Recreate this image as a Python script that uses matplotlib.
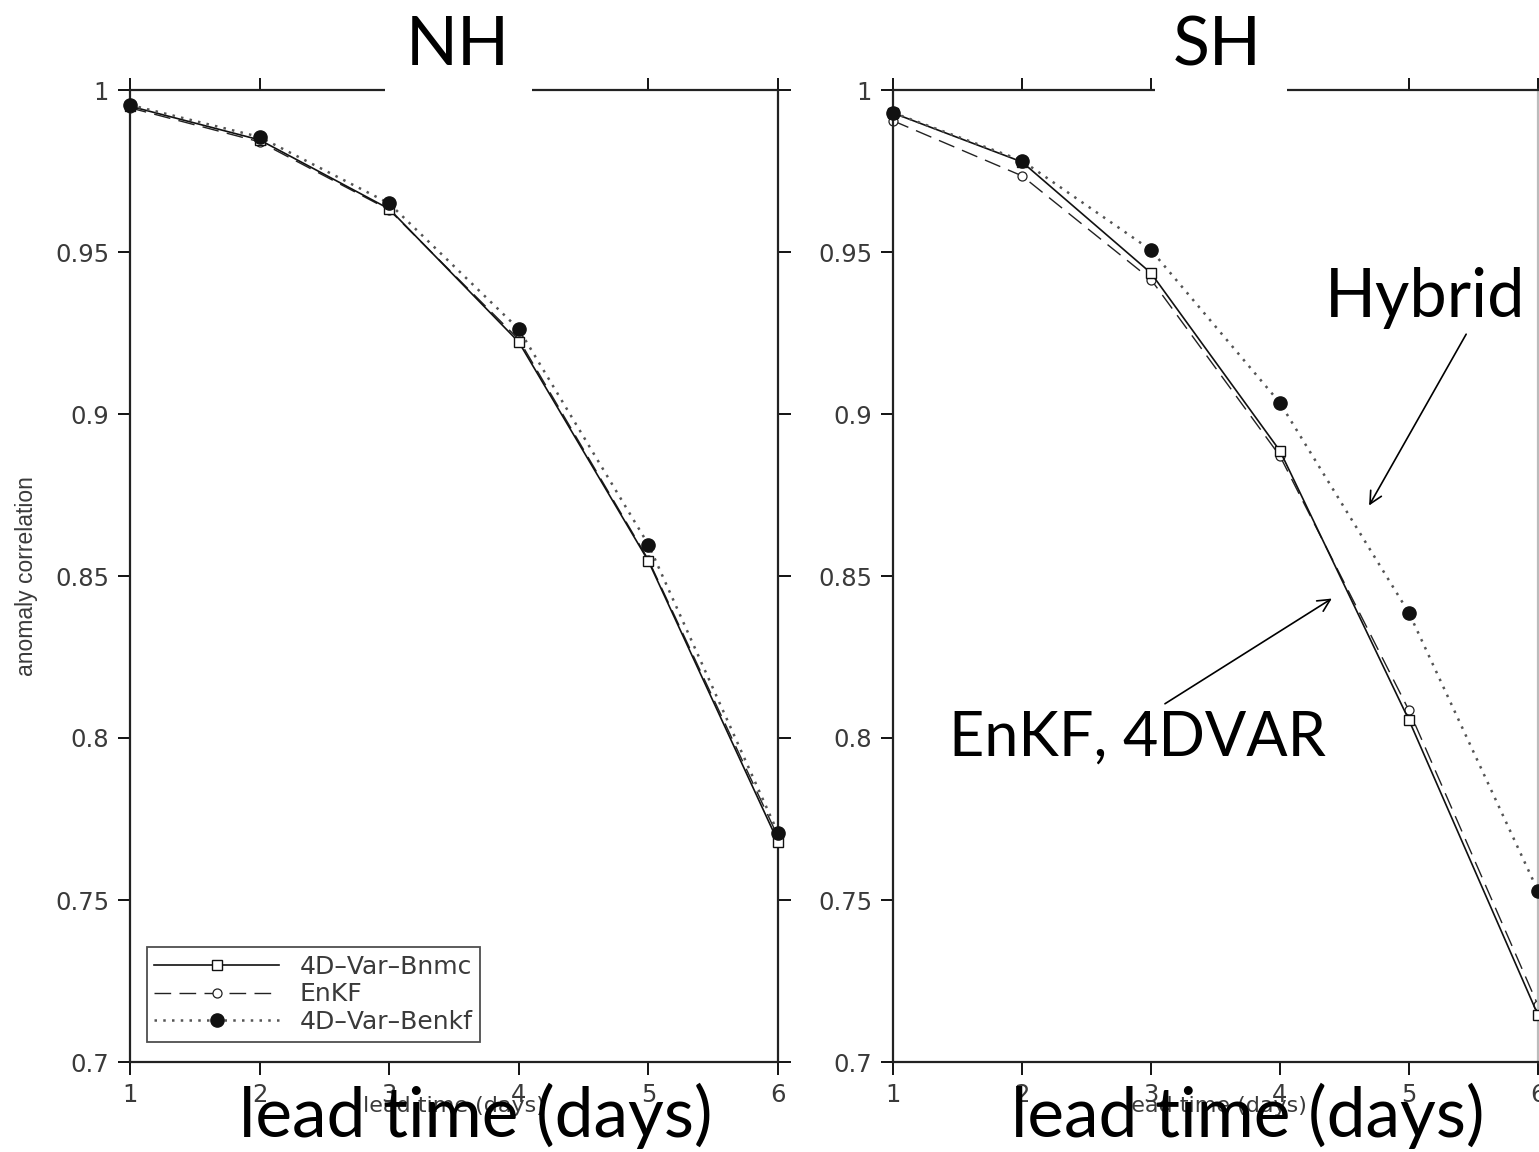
import numpy as np
import matplotlib
matplotlib.use("Agg")
from matplotlib import pyplot as plt
from matplotlib.patches import Rectangle

# lead time in days
days = [1, 2, 3, 4, 5, 6]

# anomaly correlation, northern hemisphere
nh_bnmc = [0.9950, 0.9846, 0.9633, 0.9222, 0.8546, 0.7680]
nh_enkf = [0.9945, 0.9840, 0.9630, 0.9230, 0.8550, 0.7695]
nh_benkf = [0.9954, 0.9855, 0.9650, 0.9262, 0.8597, 0.7707]

# anomaly correlation, southern hemisphere
sh_bnmc = [0.9929, 0.9778, 0.9435, 0.8886, 0.8055, 0.7145]
sh_enkf = [0.9905, 0.9735, 0.9415, 0.8870, 0.8085, 0.7175]
sh_benkf = [0.9930, 0.9782, 0.9506, 0.9034, 0.8386, 0.7528]

labels = ["4D\u2013Var\u2013Bnmc", "EnKF", "4D\u2013Var\u2013Benkf"]
yticks = [0.7, 0.75, 0.8, 0.85, 0.9, 0.95, 1.0]

W, H = 1539, 1152
fig = plt.figure(figsize=(W / 100, H / 100), dpi=100)

big = dict(family="Lato", color="black")


def px_axes(x0, x1, y0, y1):
    # pixel box (from top-left) -> figure fraction axes
    return fig.add_axes([x0 / W, 1 - y1 / H, (x1 - x0) / W, (y1 - y0) / H])


def panel(ax, bnmc, enkf, benkf):
    ax.plot(days, bnmc, "-", color="#111111", lw=1.2, marker="s", ms=6.5,
            mfc="white", mec="#111111", mew=1.0, clip_on=False, zorder=3,
            label=labels[0])
    ax.plot(days, enkf, color="#222222", lw=1.0, ls=(0, (12, 6)), marker="o",
            ms=6.5, mfc="white", mec="#222222", mew=0.9, clip_on=False,
            zorder=2, label=labels[1])
    ax.plot(days, benkf, color="#555555", lw=1.8, ls=(0, (1, 2.5)),
            marker="o", ms=9.5, mfc="#111111", mec="#111111", clip_on=False,
            zorder=4, label=labels[2])
    ax.set_xlim(1, 6)
    ax.set_ylim(0.7, 1.0)
    ax.set_xticks(days)
    ax.set_yticks(yticks)
    ax.set_yticklabels(["%g" % t for t in yticks])
    ax.tick_params(direction="out", length=9, width=1.3, top=True, right=True,
                   labelsize=17.5, labelcolor="#3a3a3a", pad=6)
    for lab in ax.get_xticklabels() + ax.get_yticklabels():
        lab.set_family("DejaVu Sans")
    for s in ax.spines.values():
        s.set_linewidth(1.6)
        s.set_color("#222222")
    ax.set_xlabel("lead time (days)", fontsize=16, labelpad=-8,
                  family="DejaVu Sans", color="#3a3a3a")


ax1 = px_axes(130, 778, 90, 1062)
panel(ax1, nh_bnmc, nh_enkf, nh_benkf)
ax1.set_ylabel("anomaly correlation", fontsize=16.5, labelpad=12,
               family="Liberation Sans", color="#3a3a3a")
leg = ax1.legend(loc="lower left", bbox_to_anchor=(0.026, 0.021),
                 handlelength=5.0, frameon=True, fancybox=False,
                 edgecolor="#222222", borderpad=0.3, labelspacing=0.15,
                 handletextpad=0.8, borderaxespad=0,
                 prop={"family": "DejaVu Sans", "size": 18})
leg.get_frame().set_linewidth(1.3)
for t in leg.get_texts():
    t.set_color("#3a3a3a")

ax2 = px_axes(893, 1538, 90, 1062)
panel(ax2, sh_bnmc, sh_enkf, sh_benkf)
ax2.spines["right"].set_color("#bbbbbb")

# white boxes behind the hemisphere titles
for x0, x1 in [(385, 532), (1155, 1287)]:
    fig.patches.append(Rectangle((x0 / W, 1 - 105 / H), (x1 - x0) / W,
                                 100 / H, transform=fig.transFigure,
                                 facecolor="white", edgecolor="none",
                                 zorder=2))

fig.text(458 / W, 1 - 46 / H, "NH", ha="center", va="center", fontsize=49,
         zorder=3, **big)
fig.text(1217 / W, 1 - 46 / H, "SH", ha="center", va="center", fontsize=49,
         zorder=3, **big)
fig.text(476 / W, 1 - 1116 / H, "lead time (days)", ha="center",
         va="center", fontsize=50, zorder=3, **big)
fig.text(1248 / W, 1 - 1116 / H, "lead time (days)", ha="center",
         va="center", fontsize=50, zorder=3, **big)

ax2.annotate("Hybrid", xy=(4.68, 0.871), xytext=(1425 / W, 1 - 298 / H),
             textcoords="figure fraction", ha="center", va="center",
             fontsize=48, zorder=5, **big,
             arrowprops=dict(arrowstyle="->", color="black", lw=1.2,
                             shrinkA=2, relpos=(0.72, 0.0),
                             mutation_scale=22))
ax2.annotate("EnKF, 4DVAR", xy=(4.42, 0.8435), xytext=(1137 / W, 1 - 738 / H),
             textcoords="figure fraction", ha="center", va="center",
             fontsize=44, zorder=5, **big,
             arrowprops=dict(arrowstyle="->", color="black", lw=1.2,
                             shrinkA=4, relpos=(0.55, 1.0),
                             mutation_scale=22))

fig.savefig("out.png", dpi=100)
